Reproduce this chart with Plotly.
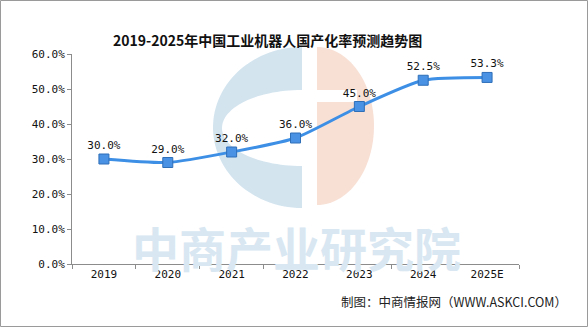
import numpy as np
import plotly.graph_objects as go

# Data
years = ["2019", "2020", "2021", "2022", "2023", "2024", "2025E"]
rate = [30.0, 29.0, 32.0, 36.0, 45.0, 52.5, 53.3]
y_ticks = [0, 10, 20, 30, 40, 50, 60]
y_tick_text = [f"{v:.1f}%" for v in y_ticks]

title = "2019-2025年中国工业机器人国产化率预测趋势图"
source = "制图：中商情报网（WWW.ASKCI.COM）"
brand = "中商产业研究院"

# Figure / plot-area geometry in pixels
FW, FH = 588, 327
L, R, T, B = 72, 519, 54, 264
PW, PH = R - L, B - T


def px(x):
    return (x - L) / PW


def py(y):
    return (B - y) / PH


def arc(cx, cy, rx, ry, a0, a1, n=60):
    t = np.radians(np.linspace(a0, a1, n))
    return [(cx + rx * np.cos(v), cy - ry * np.sin(v)) for v in t]


def path_from(points):
    s = "M " + " L ".join(f"{px(x):.5f},{py(y):.5f}" for x, y in points)
    return s + " Z"


mono = "DejaVu Sans Mono"
line_color = "#3d8fe6"

fig = go.Figure()
fig.add_trace(go.Scatter(
    x=years, y=rate,
    mode="lines+markers+text",
    line=dict(color=line_color, width=3, shape="spline", smoothing=0.6),
    marker=dict(symbol="square", size=10, color="#4a92e3",
                line=dict(color="#2f6fb8", width=1)),
    text=[f"{v:.1f}%" for v in rate],
    textposition="top center",
    textfont=dict(family=mono, size=11, color="#111"),
    cliponaxis=False,
    hoverinfo="skip",
))

shapes = []
# Watermark logo: blue "C" on the left, peach half-disc on the right
blue_c = arc(302, 127.5, 89, 80.5, 90, 270) + arc(302, 128, 80, 38, 270, 90)
shapes.append(dict(type="path", xref="paper", yref="paper", layer="below",
                   path=path_from(blue_c), fillcolor="#d3e4ef",
                   line=dict(width=0)))
peach = arc(317, 126, 57, 79, 90, -90)
shapes.append(dict(type="path", xref="paper", yref="paper", layer="below",
                   path=path_from(peach), fillcolor="#f8e0d5",
                   line=dict(width=0)))
shapes.append(dict(type="rect", xref="paper", yref="paper", layer="below",
                   x0=px(316), x1=px(357), y0=py(90), y1=py(102),
                   fillcolor="white", line=dict(width=0)))
# Outer frame
shapes.append(dict(type="rect", xref="paper", yref="paper", layer="above",
                   x0=px(0.5), x1=px(FW - 0.5), y0=py(0.5), y1=py(FH - 0.5),
                   line=dict(color="#9a9a9a", width=1)))

annotations = [
    dict(text=f"<b>{title}</b>", xref="paper", yref="paper",
         x=px(267), y=py(28), showarrow=False,
         font=dict(family="Noto Sans CJK SC", size=14, color="#111")),
    dict(text=f"<b>{brand}</b>", xref="paper", yref="paper",
         x=px(296), y=py(283), showarrow=False,
         font=dict(family="Noto Sans CJK SC", size=47, color="#d8e7f2")),
    dict(text=source, xref="paper", yref="paper",
         x=px(569), y=py(313), xanchor="right", showarrow=False,
         font=dict(family="Noto Sans CJK SC", size=12.5, color="#222")),
]

fig.update_layout(
    width=FW, height=FH,
    margin=dict(l=L, r=FW - R, t=T, b=FH - B),
    paper_bgcolor="white", plot_bgcolor="rgba(0,0,0,0)",
    showlegend=False,
    shapes=shapes,
    annotations=annotations,
    xaxis=dict(
        type="category",
        showline=True, linecolor="#8c8c8c", linewidth=1,
        ticks="outside", tickson="boundaries", ticklen=4, tickcolor="#8c8c8c",
        showgrid=False, zeroline=False,
        tickfont=dict(family=mono, size=11, color="#111"),
        range=[-0.5, len(years) - 0.5],
    ),
    yaxis=dict(
        range=[0, 60],
        tickvals=y_ticks, ticktext=y_tick_text,
        showline=True, linecolor="#8c8c8c", linewidth=1,
        ticks="outside", ticklen=4, tickcolor="#8c8c8c",
        showgrid=False, zeroline=False,
        tickfont=dict(family=mono, size=11, color="#111"),
    ),
)

fig.write_html("out.html")
